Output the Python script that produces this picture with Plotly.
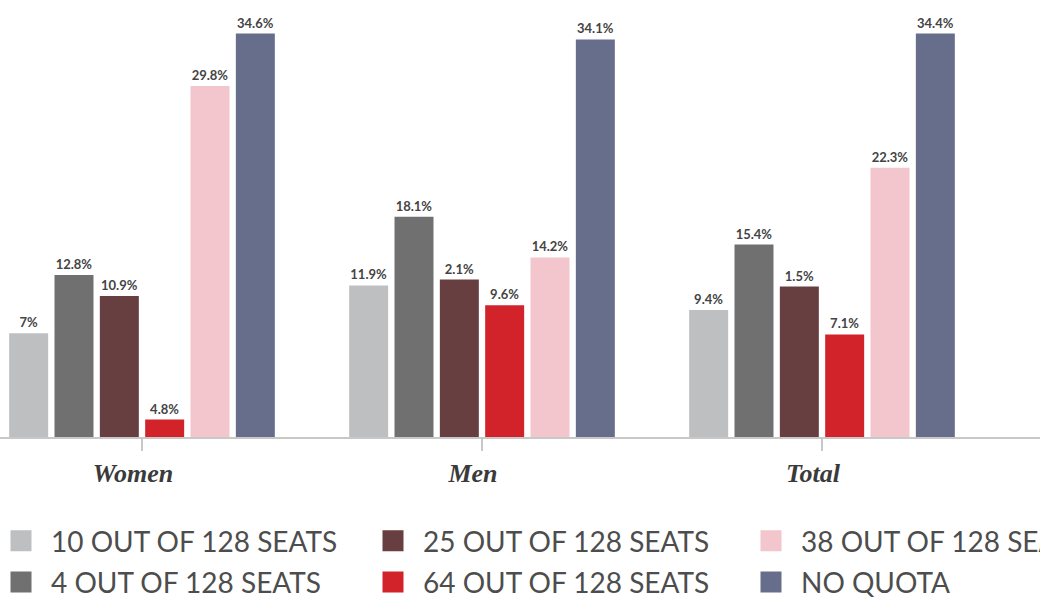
import plotly.graph_objects as go

categories = ["Women", "Men", "Total"]
series_names = ["10 OUT OF 128 SEATS", "4 OUT OF 128 SEATS", "25 OUT OF 128 SEATS",
                "64 OUT OF 128 SEATS", "38 OUT OF 128 SEATS", "NO QUOTA"]
series_colors = ["#bebfc1", "#6f706f", "#673f40", "#d2232a", "#f3c5cc", "#676e8c"]

# bar heights as drawn in the picture (percent)
seats10 = [8.9, 13.0, 10.9]
seats4 = [13.9, 18.9, 16.5]
seats25 = [12.1, 13.5, 12.9]
seats64 = [1.5, 11.3, 8.8]
seats38 = [30.1, 15.4, 23.1]
no_quota = [34.6, 34.1, 34.6]

# printed value labels
labels10 = ["7%", "11.9%", "9.4%"]
labels4 = ["12.8%", "18.1%", "15.4%"]
labels25 = ["10.9%", "2.1%", "1.5%"]
labels64 = ["4.8%", "9.6%", "7.1%"]
labels38 = ["29.8%", "14.2%", "22.3%"]
labels_nq = ["34.6%", "34.1%", "34.4%"]

values = [seats10, seats4, seats25, seats64, seats38, no_quota]
labels = [labels10, labels4, labels25, labels64, labels38, labels_nq]
legend_ids = ["legend", "legend", "legend2", "legend2", "legend3", "legend3"]

fig = go.Figure()
for name, color, vals, labs in zip(series_names, series_colors, values, labels):
    fig.add_trace(go.Bar(
        x=categories, y=vals, name=name, marker=dict(color=color, line=dict(width=0)),
        text=labs, textposition="outside", cliponaxis=False,
        textfont=dict(family="Lato", size=13, color="#444444", weight="bold"),
        showlegend=False, legendgroup=name,
    ))

for name, color, lg in zip(series_names, series_colors, legend_ids):
    fig.add_trace(go.Scatter(
        x=[None], y=[None], mode="markers", name=name, legendgroup=name,
        marker=dict(symbol="square", size=16, color=color, line=dict(color=color, width=5)),
        legend=lg, showlegend=True,
    ))

W, H = 1040, 597
top, bottom = 10, 160
plot_h = H - top - bottom
px_per_unit = 11.66
x_lo = -142 / 340
x_hi = 2 + (1040 - 822) / 340

leg_common = dict(
    orientation="v", yanchor="top", xanchor="left",
    font=dict(family="Lato", size=28, color="#4d4d4d"),
    itemsizing="trace", bgcolor="rgba(0,0,0,0)", tracegroupgap=2,
    itemwidth=50, itemclick=False, itemdoubleclick=False,
)
leg_y = (437 - 516) / plot_h

fig.update_layout(
    width=W, height=H,
    margin=dict(l=0, r=0, t=top, b=bottom, pad=0, autoexpand=False),
    paper_bgcolor="white", plot_bgcolor="white",
    barmode="group", bargap=0.2, bargroupgap=0.14,
    xaxis=dict(
        range=[x_lo, x_hi], showgrid=False, zeroline=False, automargin=False,
        showline=True, linecolor="#c8c8c8", linewidth=2,
        ticks="outside", ticklen=12, tickwidth=2, tickcolor="#c8c8c8",
        ticklabelstandoff=0, ticklabelshift=-9,
        tickfont=dict(family="Liberation Serif", size=26, color="#3a3a3a",
                      weight="bold", style="italic"),
    ),
    yaxis=dict(range=[0, plot_h / px_per_unit], visible=False, showgrid=False,
               zeroline=False, automargin=False),
    legend=dict(x=-9 / W, y=leg_y, **leg_common),
    legend2=dict(x=363 / W, y=leg_y, **leg_common),
    legend3=dict(x=741 / W, y=leg_y, **leg_common),
)

fig.write_html("out.html", config={"displayModeBar": False},
               post_script="document.body.style.margin='0';document.body.style.overflow='hidden';")
